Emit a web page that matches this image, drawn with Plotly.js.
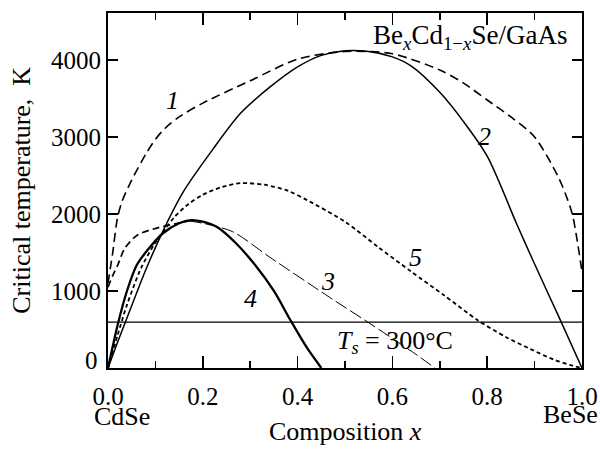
<!DOCTYPE html>
<html><head><meta charset="utf-8">
<script src="https://cdn.plot.ly/plotly-3.0.1.min.js"></script>
<style>body{margin:0;background:#fff}#c{width:600px;height:450px}</style>
</head><body><div id="c"></div>
<script>
// Curve 1 (dashed)
const x1 = [0, 0.005, 0.01, 0.02, 0.03, 0.05, 0.08, 0.1, 0.12, 0.15, 0.2, 0.3, 0.4, 0.5, 0.6, 0.7, 0.75, 0.8, 0.85, 0.9, 0.95, 0.97, 0.98, 0.99, 1.0];
const t1 = [1100, 1300, 1500, 1950, 2170, 2440, 2780, 2970, 3110, 3260, 3440, 3730, 4010, 4110, 4080, 3870, 3700, 3480, 3260, 3000, 2480, 2180, 1990, 1650, 1250];
// Curve 2 (solid)
const x2 = [0, 0.02, 0.04, 0.08, 0.12, 0.16, 0.22, 0.28, 0.34, 0.4, 0.45, 0.5, 0.55, 0.6, 0.64, 0.7, 0.75, 0.8, 0.863, 0.9, 0.95, 1.0];
const t2 = [0, 330, 650, 1280, 1830, 2300, 2830, 3310, 3640, 3910, 4060, 4120, 4110, 4040, 3920, 3580, 3200, 2750, 1860, 1350, 680, 0];
// Curve 3 (left part, dashed; right part, thin long dashes)
const x3a = [0, 0.01, 0.02, 0.036, 0.063, 0.105, 0.14, 0.17];
const t3a = [1050, 1200, 1330, 1560, 1730, 1820, 1870, 1910];
const x3b = [0.17, 0.2, 0.263, 0.341, 0.467, 0.547, 0.642, 0.69];
const t3b = [1910, 1880, 1770, 1440, 920, 600, 210, 0];
// Curve 4 (thick solid)
const x4 = [0, 0.021, 0.04, 0.061, 0.09, 0.116, 0.15, 0.175, 0.2, 0.23, 0.27, 0.31, 0.35, 0.385, 0.42, 0.45];
const t4 = [0, 575, 1000, 1340, 1580, 1750, 1880, 1920, 1900, 1830, 1620, 1340, 1000, 620, 260, 0];
// Curve 5 (short dashes)
const x5 = [0, 0.02, 0.04, 0.07, 0.1, 0.12, 0.14, 0.17, 0.2, 0.24, 0.28, 0.33, 0.38, 0.42, 0.5, 0.57, 0.64, 0.71, 0.78, 0.84, 0.89, 0.94, 0.98, 1.0];
const t5 = [0, 420, 820, 1300, 1630, 1800, 1960, 2130, 2250, 2350, 2400, 2380, 2300, 2180, 1900, 1570, 1250, 940, 620, 400, 250, 110, 30, 0];
// Growth temperature line
const xTs = [0, 1];
const tTs = [595, 595];

const xTicks = [0, 0.2, 0.4, 0.6, 0.8, 1.0];
const xTickText = ['0.0', '0.2', '0.4', '0.6', '0.8', '1.0'];
const yTicks = [0, 1000, 2000, 3000, 4000];
const yTickText = ['0', '1000', '2000', '3000', '4000'];

const curveLabels = ['1', '2', '3', '4', '5'];
const labelX = [0.137, 0.795, 0.464, 0.30, 0.648];
const labelT = [3480, 3000, 1117, 909, 1429];

const F = 'Liberation Serif, Times New Roman, serif';
const sp = {shape: 'spline', smoothing: 0.8, color: '#000'};

const traces = [
  {x: x1, y: t1, mode: 'lines', line: Object.assign({}, sp, {width: 1.6, dash: '9px,5px'})},
  {x: x2, y: t2, mode: 'lines', line: Object.assign({}, sp, {width: 1.5})},
  {x: x3a, y: t3a, mode: 'lines', line: Object.assign({}, sp, {width: 1.7, dash: '7px,4px'})},
  {x: x3b, y: t3b, mode: 'lines', line: Object.assign({}, sp, {width: 1.0, dash: '13px,4px'})},
  {x: x4, y: t4, mode: 'lines', line: Object.assign({}, sp, {width: 2.3})},
  {x: x5, y: t5, mode: 'lines', line: Object.assign({}, sp, {width: 1.8, dash: '4px,3px'})},
  {x: xTs, y: tTs, mode: 'lines', line: {color: '#000', width: 1.3}}
];

const C = {xanchor: 'center', yanchor: 'middle', showarrow: false};
const ann = [];
for (let i = 0; i < curveLabels.length; i++) {
  ann.push(Object.assign({x: labelX[i], y: labelT[i], xref: 'x', yref: 'y', text: '<i>' + curveLabels[i] + '</i>',
    font: {family: F, size: 26, color: '#000'}}, C));
}
ann.push(Object.assign({x: 0.605, y: 338, xref: 'x', yref: 'y', text: '<i>T</i><sub><i>s</i></sub> = 300°C',
  font: {family: F, size: 26, color: '#000'}}, C));
ann.push({x: 0.972, y: 0.985, xref: 'paper', yref: 'paper', xanchor: 'right', yanchor: 'top',
  text: 'Be<sub><i>x</i></sub>Cd<sub>1−<i>x</i></sub>Se/GaAs', showarrow: false,
  font: {family: F, size: 27, color: '#000'}});
ann.push(Object.assign({x: -0.183, y: 0.5, xref: 'paper', yref: 'paper', textangle: -90,
  text: 'Critical temperature,\u00a0\u00a0K', font: {family: F, size: 26, color: '#000'}}, C));
ann.push(Object.assign({x: 0.5, y: -0.178, xref: 'paper', yref: 'paper', text: 'Composition <i>x</i>',
  font: {family: F, size: 26, color: '#000'}}, C));
ann.push(Object.assign({x: 0.03, y: -0.136, xref: 'paper', yref: 'paper', text: 'CdSe',
  font: {family: F, size: 26, color: '#000'}}, C));
ann.push(Object.assign({x: 0.975, y: -0.13, xref: 'paper', yref: 'paper', text: 'BeSe',
  font: {family: F, size: 26, color: '#000'}}, C));
// y "0" label sits slightly above its tick in the original
ann.push({x: 0, y: 0.0225, xref: 'paper', yref: 'paper', xanchor: 'right', yanchor: 'middle', text: yTickText[0], xshift: -8,
  showarrow: false, font: {family: F, size: 25, color: '#000'}});

const yTickShown = yTickText.map((t, i) => i === 0 ? '' : t);

const axBase = {showgrid: false, zeroline: false, showline: true, linecolor: '#000', linewidth: 2,
  mirror: 'ticks', ticks: 'inside', tickcolor: '#000', tickwidth: 1.5,
  tickfont: {family: F, size: 25, color: '#000'}};

const layout = {
  width: 600, height: 450,
  margin: {l: 108, r: 18, t: 13, b: 82},
  paper_bgcolor: '#fff', plot_bgcolor: '#fff',
  showlegend: false,
  xaxis: Object.assign({}, axBase, {range: [0, 1], tickmode: 'array', tickvals: xTicks, ticktext: xTickText,
    ticklen: 12, ticklabelstandoff: 5,
    minor: {dtick: 0.1, tick0: 0, ticks: 'inside', ticklen: 7, tickwidth: 1.5, tickcolor: '#000'}}),
  yaxis: Object.assign({}, axBase, {range: [0, 4610], tickmode: 'array', tickvals: yTicks, ticktext: yTickShown,
    ticklen: 10}),
  annotations: ann
};

Plotly.newPlot('c', traces, layout, {staticPlot: true});
</script></body></html>
